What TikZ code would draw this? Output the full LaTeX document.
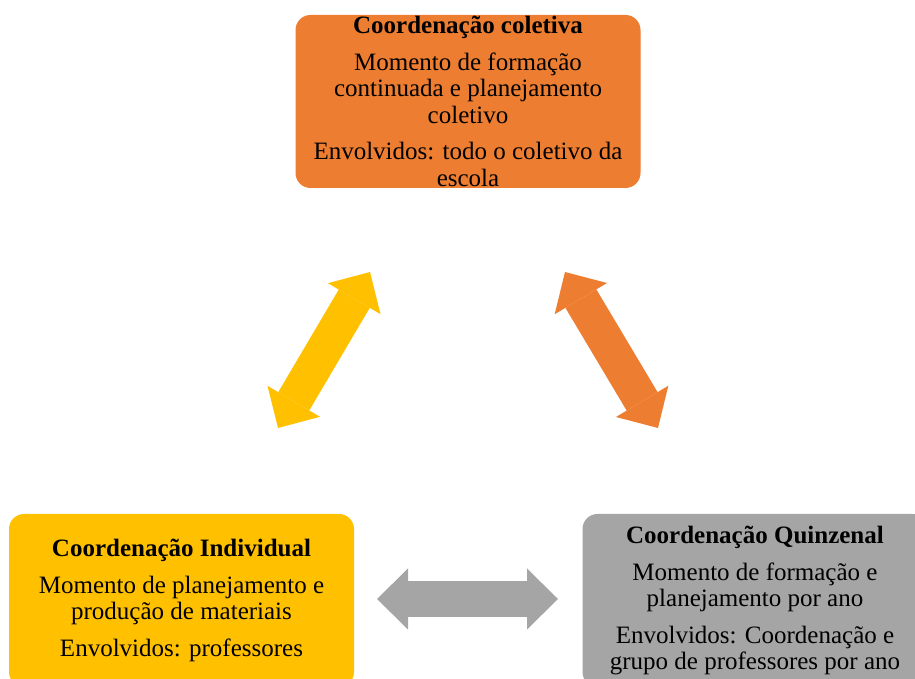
\documentclass[tikz,border=0pt]{standalone}
\usepackage{fontspec}
\setmainfont{Liberation Serif}
\usetikzlibrary{arrows.meta}
\definecolor{laranja}{HTML}{ED7D31}
\definecolor{amarelo}{HTML}{FFC000}
\definecolor{cinza}{HTML}{A5A5A5}
\newcommand{\blocksep}{\\[10pt]}

\begin{document}
\begin{tikzpicture}[x=1pt,y=1pt,
    caixa/.style={rounded corners=15pt, minimum width=345pt, minimum height=173pt,
        align=center, inner sep=0pt, font=\fontsize{25}{26.5}\selectfont},
    seta/.style={line width=36pt,
        {Triangle[width=61pt,length=31pt,line width=0pt]}-{Triangle[width=61pt,length=31pt,line width=0pt]}}]
        \clip (0,0) rectangle (915,679);
        \useasboundingbox (0,0) rectangle (915,679);

        \node[caixa, fill=laranja] (coletiva) at (468,577.5)
            {\textbf{Coordenação coletiva}\blocksep
             Momento de formação\\ continuada e planejamento\\ coletivo\blocksep
             Envolvidos: todo o coletivo da\\ escola};
        \node[caixa, fill=amarelo] (individual) at (181.5,78.5)
            {\textbf{Coordenação Individual}\blocksep
             Momento de planejamento e\\ produção de materiais\blocksep
             Envolvidos: professores};
        \node[caixa, fill=cinza] (quinzenal) at (755,78.5)
            {\textbf{Coordenação Quinzenal}\blocksep
             Momento de formação e\\ planejamento por ano\blocksep
             Envolvidos: Coordenação e\\ grupo de professores por ano};

        %ends of the double arrows
        \coordinate (ind-up) at (278,251);
        \coordinate (col-left) at (370,407);
        \coordinate (col-right) at (565,407);
        \coordinate (qui-up) at (658,251);
        \coordinate (ind-right) at (377,80);
        \coordinate (qui-left) at (558,80);

        \draw[seta, amarelo] (ind-up) -- (col-left);
        \draw[seta, laranja] (col-right) -- (qui-up);
        \draw[seta, cinza] (ind-right) -- (qui-left);
\end{tikzpicture}
\end{document}
